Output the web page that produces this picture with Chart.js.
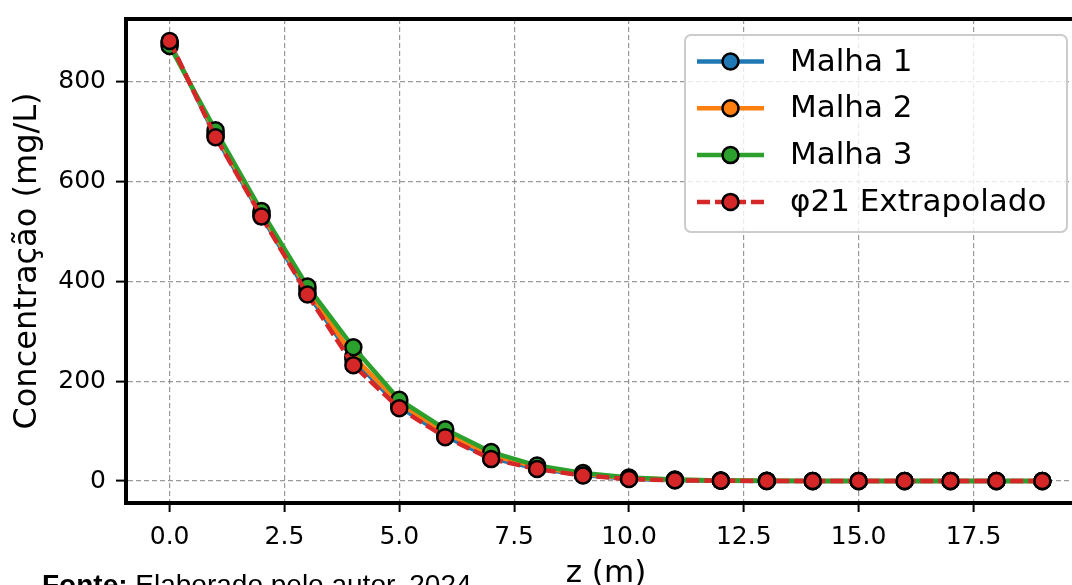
<!DOCTYPE html>
<html>
<head>
<meta charset="utf-8">
<script src="https://cdn.jsdelivr.net/npm/chart.js@4.4.0/dist/chart.umd.min.js"></script>
<style>
  html, body { margin: 0; padding: 0; background: #fff; }
  #wrap { position: relative; width: 1072px; height: 585px; overflow: hidden; background: #fff; }
  #chart { position: absolute; left: 0; top: 0; }
  .fonte { position: absolute; left: 42px; top: 571px; font-family: "Liberation Sans", Arial, sans-serif; font-size: 28px; line-height: 28px; white-space: nowrap; color: #000; }
</style>
</head>
<body>
<div id="wrap">
  <canvas id="chart" width="1100" height="600"></canvas>
  <div class="fonte"><b>Fonte:</b> Elaborado pelo autor, 2024</div>
</div>
<script>
// z positions (m) and concentration per mesh (mg/L)
const zValues = [0, 1, 2, 3, 4, 5, 6, 7, 8, 9, 10, 11, 12, 13, 14, 15, 16, 17, 18, 19];
const malha1 = [880, 691, 532, 377, 244, 149, 90, 46, 25, 12, 4.5, 1.8, 0.7, 0.3, 0.1, 0, 0, 0, 0, 0];
const malha2 = [876, 697, 536, 384, 250, 156, 97, 52, 28, 14, 6, 2.5, 1, 0.4, 0.2, 0.1, 0, 0, 0, 0];
const malha3 = [872, 703, 541, 390, 268, 163, 104, 58, 31, 16, 7, 3, 1.2, 0.5, 0.2, 0.1, 0, 0, 0, 0];
const extrapolado = [882, 689, 530, 374, 232, 146, 88, 44, 24, 11, 4, 1.5, 0.6, 0.2, 0.1, 0, 0, 0, 0, 0];

const xTicks = [0, 2.5, 5, 7.5, 10, 12.5, 15, 17.5];
const yTicks = [0, 200, 400, 600, 800];

const seriesNames = ["Malha 1", "Malha 2", "Malha 3", "φ21 Extrapolado"];
const seriesColors = ["#1f77b4", "#ff7f0e", "#2ca02c", "#d62728"];

const FONT = "DejaVu Sans";

function points(values) {
  return zValues.map((z, i) => ({ x: z, y: values[i] }));
}

function makeDataset(i, values, dash, order) {
  return {
    label: seriesNames[i],
    data: points(values),
    borderColor: seriesColors[i],
    backgroundColor: seriesColors[i],
    borderWidth: 4.5,
    borderDash: dash,
    pointRadius: 8,
    pointHoverRadius: 8,
    pointBorderColor: "#000",
    pointBorderWidth: 2.5,
    pointBackgroundColor: seriesColors[i],
    tension: 0,
    order: order
  };
}

// top spine, drawn above the lines like the others
const topSpine = {
  id: "topSpine",
  afterDatasetsDraw(chart) {
    const { ctx, chartArea } = chart;
    ctx.save();
    ctx.strokeStyle = "#000";
    ctx.lineWidth = 4;
    ctx.beginPath();
    ctx.moveTo(chartArea.left - 2, chartArea.top);
    ctx.lineTo(chartArea.right + 2, chartArea.top);
    ctx.stroke();
    ctx.restore();
  }
};

// legend box inside the plot, upper right
const innerLegend = {
  id: "innerLegend",
  afterDraw(chart) {
    const { ctx, chartArea } = chart;
    const bx = chartArea.left + 559;
    const by = chartArea.top + 16;
    const bw = 382;
    const bh = 197;
    ctx.save();
    ctx.beginPath();
    ctx.roundRect(bx, by, bw, bh, 6);
    ctx.fillStyle = "rgba(255,255,255,0.8)";
    ctx.fill();
    ctx.strokeStyle = "#cccccc";
    ctx.lineWidth = 2;
    ctx.stroke();

    chart.data.datasets.forEach((ds, i) => {
      const y = by + 26.5 + i * 46.8;
      const x0 = bx + 12;
      const x1 = bx + 79;
      const xm = (x0 + x1) / 2;
      ctx.beginPath();
      ctx.setLineDash(ds.borderDash || []);
      ctx.strokeStyle = ds.borderColor;
      ctx.lineWidth = ds.borderWidth;
      ctx.moveTo(x0, y);
      ctx.lineTo(x1, y);
      ctx.stroke();
      ctx.setLineDash([]);
      ctx.beginPath();
      ctx.arc(xm, y, ds.pointRadius, 0, Math.PI * 2);
      ctx.fillStyle = ds.pointBackgroundColor;
      ctx.fill();
      ctx.strokeStyle = "#000";
      ctx.lineWidth = ds.pointBorderWidth;
      ctx.stroke();
      ctx.fillStyle = "#000";
      ctx.font = "31px '" + FONT + "'";
      ctx.textBaseline = "middle";
      ctx.textAlign = "left";
      ctx.fillText(ds.label, bx + 105, y + 1);
    });
    ctx.restore();
  }
};

Chart.defaults.color = "#000";
Chart.defaults.font.family = FONT;

new Chart(document.getElementById("chart"), {
  type: "line",
  data: {
    datasets: [
      makeDataset(0, malha1, [], 3),
      makeDataset(1, malha2, [], 2),
      makeDataset(2, malha3, [], 1),
      makeDataset(3, extrapolado, [13, 5], 0)
    ]
  },
  options: {
    responsive: false,
    animation: false,
    events: [],
    layout: { padding: { left: 0, top: 19, right: 14, bottom: 0 } },
    plugins: {
      legend: { display: false },
      tooltip: { enabled: false }
    },
    scales: {
      x: {
        type: "linear",
        min: -0.95,
        max: 19.95,
        afterFit: scale => {
          scale.height = 97;
          scale.paddingLeft = 0;
          scale.paddingRight = 0;
        },
        afterBuildTicks: scale => { scale.ticks = xTicks.map(v => ({ value: v })); },
        grid: {
          color: "rgba(120,120,120,0.75)",
          lineWidth: 1.2,
          tickColor: "#000",
          tickLength: 9,
          tickWidth: 2
        },
        border: { color: "#000", width: 4, dash: [5, 3] },
        ticks: {
          font: { size: 25 },
          padding: 10,
          maxRotation: 0,
          callback: v => Number(v).toFixed(1)
        },
        title: {
          display: true,
          text: "z (m)",
          font: { size: 31 },
          padding: { top: 0, bottom: 7 }
        }
      },
      y: {
        min: -44,
        max: 926,
        afterFit: scale => {
          scale.width = 126;
          scale.paddingTop = 0;
          scale.paddingBottom = 0;
        },
        afterBuildTicks: scale => { scale.ticks = yTicks.map(v => ({ value: v })); },
        grid: {
          color: "rgba(120,120,120,0.75)",
          lineWidth: 1.2,
          tickColor: "#000",
          tickLength: 10,
          tickWidth: 2
        },
        border: { color: "#000", width: 4, dash: [5, 3] },
        ticks: {
          font: { size: 25 },
          padding: 10,
          callback: v => String(Math.round(v))
        },
        title: {
          display: true,
          text: "Concentração (mg/L)",
          font: { size: 32 },
          padding: { top: 8, bottom: 0 }
        }
      }
    }
  },
  plugins: [topSpine, innerLegend]
});
</script>
</body>
</html>
